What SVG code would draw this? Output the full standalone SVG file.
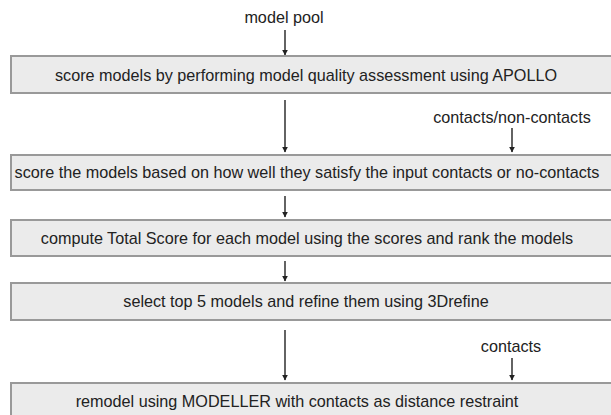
<svg xmlns="http://www.w3.org/2000/svg" width="611" height="415" viewBox="0 0 611 415">
<style>
  .box { fill: #ebebeb; stroke: #999999; stroke-width: 2; }
  .t { font-family: "Liberation Sans", Arial, sans-serif; font-size: 16.2px; fill: #222222; text-anchor: middle; }
  .c { stroke: #222222; stroke-width: 1.4; fill: none; marker-end: url(#ah); }
</style>
<defs>
  <marker id="ah" viewBox="0 0 10 10" refX="9" refY="5" markerWidth="6" markerHeight="9" markerUnits="userSpaceOnUse" orient="auto">
    <path d="M0,0 L10,5 L0,10 z" fill="#222222"/>
  </marker>
</defs>
<rect width="611" height="415" fill="#ffffff"/>
<g id="connectors">
  <line class="c" x1="285" y1="30" x2="285" y2="55"/>
  <line class="c" x1="285" y1="100" x2="285" y2="152"/>
  <line class="c" x1="512" y1="128" x2="512" y2="152"/>
  <line class="c" x1="285" y1="196" x2="285" y2="217"/>
  <line class="c" x1="285" y1="261" x2="285" y2="281"/>
  <line class="c" x1="285" y1="330" x2="285" y2="380"/>
  <line class="c" x1="512" y1="358" x2="512" y2="380"/>
</g>
<g id="label-model-pool"><text class="t" x="284" y="23">model pool</text></g>
<g id="label-contacts-non"><text class="t" x="512" y="123">contacts/non-contacts</text></g>
<g id="label-contacts"><text class="t" x="511" y="352">contacts</text></g>
<g id="n1"><rect class="box" x="11" y="56" width="620" height="37"/><text class="t" x="306" y="81">score models by performing model quality assessment using APOLLO</text></g>
<g id="n2"><rect class="box" x="11" y="155" width="620" height="35"/><text class="t" x="307" y="178">score the models based on how well they satisfy the input contacts or no-contacts</text></g>
<g id="n3"><rect class="box" x="11" y="220" width="620" height="36"/><text class="t" x="307" y="244">compute Total Score for each model using the scores and rank the models</text></g>
<g id="n4"><rect class="box" x="11" y="283" width="620" height="37"/><text class="t" x="306" y="307">select top 5 models and refine them using 3Drefine</text></g>
<g id="n5"><rect class="box" x="11" y="383" width="620" height="40"/><text class="t" x="297" y="407">remodel using MODELLER with contacts as distance restraint</text></g>
</svg>
